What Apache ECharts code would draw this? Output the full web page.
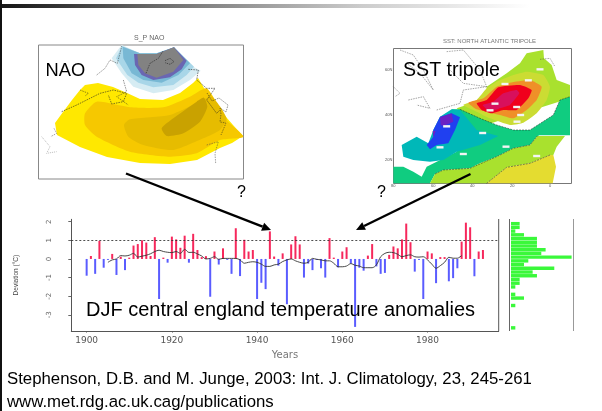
<!DOCTYPE html>
<html><head><meta charset="utf-8">
<style>html,body{margin:0;padding:0;background:#fff}#c{width:602px;height:411px;filter:blur(0.5px)}</style>
<script src="https://cdn.jsdelivr.net/npm/echarts@6/dist/echarts.min.js"></script>
</head><body><div id="c"></div>
<script>
const firstYear = 1900;
const anomalies = [-0.9,0.16,-0.8,0.97,-0.47,-0.05,0.27,-0.86,0.12,-0.6,0.07,0.72,0.8,1.0,0.88,0.16,1.17,-2.15,0.07,-0.2,
1.2,1.05,0.6,1.25,-0.2,1.35,0.48,0.1,0.15,-2.03,0.4,-0.3,0.57,-0.05,-0.8,1.65,-0.92,1.03,0.4,0.48,
-2.15,-1.28,-1.62,1.48,0.13,-0.36,0.3,-2.43,0.78,1.22,0.78,-1.0,-0.25,-0.6,-0.05,-0.5,-1.0,1.12,0.07,-0.45,
0.4,0.63,-0.25,-3.65,-0.47,-0.63,0.18,0.8,-0.4,-0.8,-0.75,0.22,0.67,0.57,1.05,1.9,0.9,-0.68,-0.05,-2.15,
0.4,0.3,-1.3,0.1,0.1,-1.2,-1.03,-0.5,0.93,1.95,1.7,-0.93,0.4,0.48];
const smoothStart = 1905;
const smoothed = [-0.18,-0.05,0,0.18,0.16,0.2,0.3,0.1,0.15,0.2,0.28,0.4,0.47,0.4,0.36,0.34,0.4,0.3,0.52,0.35,0.36,0.27,0.16,0,0.03,0.12,-0.02,0.03,0.03,0.03,0.03,-0.05,-0.23,-0.18,-0.15,-0.18,-0.28,-0.4,-0.4,-0.32,-0.28,-0.14,-0.05,0,-0.1,-0.18,
-0.23,-0.18,0.03,-0.02,-0.05,-0.1,-0.1,-0.23,-0.42,-0.42,-0.38,-0.25,-0.34,-0.38,-0.47,-0.47,-0.47,-0.32,0.12,0.3,0.36,0.34,0.25,0.12,0.18,0.22,0.12,0.1,0.12,-0.05,-0.28,-0.5,-0.36,-0.18,0.09,0.04,0.04,0.18];
const binLabels = ['1.8','1.6','1.4','1.2','1.0','0.8','0.6','0.4','0.2','0.0','-0.2','-0.4','-0.6','-0.8','-1.0','-1.2','-1.4','-1.6','-1.8','-2.0','-2.2','-2.4','-2.6','-2.8','-3.0','-3.2','-3.4','-3.6','-3.8'];
const binCounts = [2,2,1,3,6,6,6,8,7,14,4,3,10,5,6,2,2,1,0,1,3,0,1,0,0,0,0,0,1];
const yearTicks = [1900,1920,1940,1960,1980];
const anomalyTicks = [-3,-2,-1,0,1,2];

const SANS = '"Liberation Sans",Arial,sans-serif';
const z3 = a => a.map(p => [30 + p[0] / 3, 30 + p[1] / 3]);
const z4 = a => a.map(p => [380 + p[0] / 3, 30 + p[1] / 3]);
const poly = (pts, fill, smooth) => ({type:'polygon', silent:true, z:1, shape:{points:pts, smooth:smooth||0}, style:{fill:fill}});
const pline = (pts, color, w, dash) => ({type:'polyline', silent:true, z:2, shape:{points:pts}, style:{stroke:color, lineWidth:w||0.5, fill:null, lineDash:dash||null}});
const line = (x1,y1,x2,y2,color,w) => ({type:'line', silent:true, z:3, shape:{x1,y1,x2,y2}, style:{stroke:color, lineWidth:w}});
const text = (t,x,y,size,fill,extra) => ({type:'text', silent:true, z:6, style:Object.assign({text:t,x,y,font:size+'px '+SANS,fill:fill||'#000',verticalAlign:'middle'},extra||{})});
function arrow(x1,y1,x2,y2){
  const a=Math.atan2(y2-y1,x2-x1),L=9,W=4.2,c=Math.cos(a),s=Math.sin(a);
  const bx=x2-L*c,by=y2-L*s;
  return [
    {type:'line',silent:true,z:5,shape:{x1,y1,x2:bx,y2:by},style:{stroke:'#000',lineWidth:2.4}},
    {type:'polygon',silent:true,z:5,shape:{points:[[x2,y2],[bx-W*s,by+W*c],[bx+W*s,by-W*c]]},style:{fill:'#000'}}
  ];
}

const naoMap = [
  poly([[55,123],[63,112],[72,100],[80,90],[85,85],[98,83],[113,87],[127,93],[140,99],[163,100],[180,93],[193,83],[198,78],[207,93],[220,110],[233,125],[243,136],[232,143],[220,148],[197,160],[170,164],[140,163],[107,157],[80,147],[57,135]],'#ffe800'),
  poly(z3([[165,250],[200,215],[300,232],[400,232],[480,200],[530,175],[590,270],[640,320],[570,330],[500,370],[420,380],[300,365],[200,320],[165,285]]),'#f6c800',0.2),
  poly(z3([[282,285],[300,268],[420,255],[500,220],[545,200],[590,265],[570,300],[520,325],[430,360],[340,345],[295,320]]),'#e6bc00',0.2),
  poly(z3([[395,295],[430,265],[500,215],[522,203],[532,230],[510,275],[460,310],[410,318]]),'#c9a200',0.2),
  poly(z3([[275,45],[245,85],[275,130],[310,170],[370,190],[430,180],[480,150],[512,122],[480,105],[432,52],[380,70],[330,70]]),'#d6ecf3'),
  poly(z3([[276,48],[258,85],[292,135],[325,158],[370,172],[430,165],[470,135],[492,110],[432,52],[380,70],[330,70]]),'#a8d6e8'),
  poly(z3([[278,50],[280,85],[305,130],[340,150],[395,158],[445,135],[480,100],[432,52],[380,70],[330,70]]),'#78b8d4'),
  poly(z3([[312,72],[315,105],[335,135],[370,150],[420,142],[455,118],[470,92],[432,52],[380,72]]),'#6a66b2'),
  poly(z3([[322,72],[325,105],[345,130],[380,143],[430,125],[460,90],[432,52],[380,72]]),'#828282'),
  pline(z3([[348,130],[360,100],[385,85],[400,62]]),'#222',0.6,[1.5,1]),
  pline(z3([[405,92],[420,85],[432,95],[420,103],[405,98]]),'#222',0.6,[1.5,1]),
  pline(z3([[240,90],[262,100],[270,70],[275,48]]),'#333',0.5,[1.5,1]),
  pline(z3([[200,135],[225,115],[240,90]]),'#333',0.5,[1.5,1]),
  pline(z3([[95,245],[140,225],[210,190],[250,180],[290,190],[280,215],[245,222],[235,195]]),'#222',0.6,[1.5,1]),
  pline(z3([[280,150],[290,185],[260,200],[295,225]]),'#222',0.5,[1.5,1]),
  pline(z3([[150,180],[175,190],[165,198]]),'#222',0.5,[1.5,1]),
  pline(z3([[72,295],[80,310],[62,320]]),'#444',0.5,[1.5,1]),
  pline(z3([[35,320],[60,350],[50,370],[80,365]]),'#777',0.5,[1,1]),
  pline(z3([[475,118],[505,120],[500,150],[530,175],[555,175],[530,210],[560,250],[570,240]]),'#222',0.6,[1.5,1]),
  pline(z3([[530,345],[565,335],[555,370],[557,400]]),'#444',0.5,[1.5,1]),
  pline([[207,93],[212,101],[219,98],[228,105],[226,112],[220,108],[221,114],[220,122],[226,123],[221,135]],'#222',0.5,[1.5,1])
];

const sstMap = [
  poly(z4([[320,170],[350,150],[380,130],[420,100],[440,70],[490,60],[492,85],[515,105],[530,150],[570,165],[570,205],[300,290],[230,235],[320,205]]),'#a9e12e'),
  poly(z4([[215,238],[240,238],[300,265],[350,285],[400,300],[450,300],[520,255],[540,210],[570,200],[570,316],[478,316],[470,320],[450,345],[400,355],[350,380],[300,400],[270,415],[190,420],[165,432],[150,460],[40,460],[40,410],[70,410],[100,425],[125,440],[140,410],[170,395],[230,365]]),'#10cc80'),
  poly(z4([[150,460],[165,432],[190,420],[270,415],[300,400],[350,380],[400,355],[450,345],[472,318],[555,318],[530,350],[520,375],[510,375],[450,400],[380,412],[320,460]]),'#a9e12e'),
  poly(z4([[320,460],[380,412],[450,400],[510,375],[520,375],[528,410],[518,460]]),'#e4dc30'),
  poly(z4([[215,238],[240,240],[290,300],[355,318],[300,345],[230,365],[190,390],[150,395],[100,390],[70,380],[65,345],[110,320],[145,340],[160,300],[180,260]]),'#00b8b8'),
  poly(z4([[180,260],[215,250],[240,262],[225,300],[205,340],[170,345],[150,358],[140,345],[160,320],[160,300]]),'#2040f0'),
  poly(z4([[180,262],[215,250],[220,275],[190,288],[182,285]]),'#6a22c4'),
  poly(z4([[158,303],[167,303],[160,322]]),'#6a22c4'),
  poly(z4([[250,225],[290,210],[320,175],[350,155],[400,135],[440,125],[490,135],[510,170],[500,210],[470,250],[430,278],[390,285],[330,265],[290,245]]),'#cbdc33',0.15),
  poly(z4([[265,218],[310,205],[350,170],[390,158],[450,150],[485,170],[470,210],[440,240],[400,265],[360,255],[320,245],[290,238]]),'#ef9028',0.15),
  poly(z4([[290,220],[320,210],[355,172],[420,165],[455,180],[445,205],[410,240],[370,240],[335,250],[305,240]]),'#f0001c',0.15),
  poly(z4([[308,225],[340,215],[370,190],[410,180],[418,190],[390,225],[360,235],[330,245]]),'#d8105c',0.15),
  pline(z4([[240,238],[300,265],[350,285],[400,300],[450,300],[520,255],[540,210],[570,200]]),'#222',0.5,[2,1]),
  pline(z4([[165,432],[190,420],[270,415],[350,380],[400,355],[450,345],[472,318]]),'#222',0.5,[2,1]),
  pline(z4([[320,460],[380,412],[450,400],[510,375]]),'#222',0.5,[2,1]),
  pline(z4([[60,60],[100,75],[130,120],[160,180],[120,130],[80,100]]),'#555',0.5,[1.5,1]),
  pline(z4([[200,65],[250,60],[300,120],[320,170],[250,160],[210,120]]),'#555',0.5,[1.5,1]),
  pline(z4([[85,210],[130,200],[150,235],[110,225]]),'#444',0.5,[1.5,1]),
  pline(z4([[170,240],[240,220],[250,180],[320,170]]),'#444',0.5,[1.5,1]),
  pline(z4([[40,170],[60,190],[45,200]]),'#555',0.5,[1.5,1]),
  pline(z4([[480,88],[510,85],[525,110]]),'#555',0.5,[1.5,1])
].concat([[200,289],[180,352],[250,372],[308,309],[378,350],[470,378],[375,162],[445,151],[345,221],[410,231],[330,241],[422,255],[411,275],[480,118]].map(p => {
  const q = z4([p])[0];
  return {type:'rect',silent:true,z:3,shape:{x:q[0]-3.5,y:q[1]-1.2,width:7,height:2.4},style:{fill:'#f4f4f4'}};
}));

const frames = [
  {type:'rect',silent:true,z:0,shape:{x:38.5,y:45,width:205,height:134},style:{fill:'#fff',stroke:'#888',lineWidth:1}},
  {type:'rect',silent:true,z:0,shape:{x:393.5,y:48.5,width:178,height:135},style:{fill:'#fff',stroke:'#777',lineWidth:1}}
];

const decorations = [
  {type:'rect',silent:true,z:4,shape:{x:0,y:4,width:602,height:4},style:{fill:{type:'linear',x:0,y:0,x2:1,y2:0,colorStops:[{offset:0,color:'#151515'},{offset:0.3,color:'#777'},{offset:0.6,color:'#ccc'},{offset:0.88,color:'#fff'},{offset:1,color:'#fff'}]}}},
  {type:'rect',silent:true,z:4,shape:{x:0,y:0,width:2,height:411},style:{fill:'#111'}},
  line(498.7,219,498.7,331,'#555',1),
  line(509.5,219,509.5,331,'#666',1),
  line(573.5,219,573.5,331,'#999',1),
  text('S_P NAO',134,38,7,'#666'),
  text('SST: NORTH ATLANTIC TRIPOLE',443,41,6,'#777'),
  text('60N',385,70,4,'#555'),text('40N',385,115,4,'#555'),text('20N',385,160,4,'#555'),
  text('80',391,186,4,'#555'),text('60',431,186,4,'#555'),text('40',470,186,4,'#555'),text('20',510,186,4,'#555'),text('0',549,186,4,'#555'),
  text('NAO',45.5,71,18.3),
  text('SST tripole',403,71,19.6),
  text('?',237,193,16),
  text('?',377,193,16),
  text('DJF central england temperature anomalies',86,310,20),
  text('Stephenson, D.B. and M. Junge, 2003: Int. J. Climatology, 23, 245-261',7,379,16.8),
  text('www.met.rdg.ac.uk.cag/publications',7,402,16.8)
].concat(arrow(126,173.5,271,230), arrow(470.5,174,356,230));

const chart = echarts.init(document.getElementById('c'), null, {renderer:'canvas'});
chart.setOption({
  animation:false,
  backgroundColor:'#fff',
  grid:[
    {left:71.3, top:219.3, width:427.4, height:111.7},
    {left:511, top:221.8, width:60.6, height:107.9}
  ],
  xAxis:[
    {gridIndex:0, type:'value', min:1896.4, max:1996.7, splitLine:{show:false},
     name:'Years', nameLocation:'middle', nameGap:19, nameTextStyle:{fontFamily:'DejaVu Sans',fontSize:10,color:'#777'},
     axisLine:{onZero:false,lineStyle:{color:'#555',width:1}},
     axisTick:{customValues:yearTicks,length:1.5,lineStyle:{color:'#555'}},
     axisLabel:{customValues:yearTicks,formatter:v=>String(v),fontFamily:'DejaVu Sans',fontSize:9,color:'#555',margin:5}},
    {gridIndex:1, type:'value', min:0, max:14, show:false}
  ],
  yAxis:[
    {gridIndex:0, type:'value', min:-3.87, max:2.13, splitLine:{show:false},
     name:'Deviation (°C)', nameLocation:'middle', nameGap:52, nameTextStyle:{fontFamily:SANS,fontSize:6.5,color:'#444'},
     axisLine:{onZero:false,show:true,lineStyle:{color:'#555',width:1}},
     axisTick:{show:true,customValues:anomalyTicks,length:3,lineStyle:{color:'#666'}},
     axisLabel:{customValues:anomalyTicks,rotate:90,fontFamily:'DejaVu Sans',fontSize:7,color:'#666',margin:19}},
    {gridIndex:1, type:'category', data:binLabels, inverse:true, show:false}
  ],
  series:[
    {type:'bar', xAxisIndex:0, yAxisIndex:0, barWidth:2,
     data:anomalies.map((v,i)=>({value:[firstYear+i,v], itemStyle:{color:v>=0?'#f6285c':'#5a5cff'}})),
     markLine:{silent:true,symbol:'none',label:{show:false},lineStyle:{color:'#222',type:[2,2],width:0.8},data:[{yAxis:1}]}},
    {type:'line', xAxisIndex:0, yAxisIndex:0, smooth:0.3, showSymbol:false, z:3,
     lineStyle:{color:'#333',width:0.9},
     data:smoothed.map((v,i)=>[smoothStart+i,v])},
    {type:'bar', xAxisIndex:1, yAxisIndex:1, barCategoryGap:'8%',
     itemStyle:{color:'#3af83a'}, data:binCounts}
  ],
  graphic:{elements:[...frames,...naoMap,...sstMap,...decorations]}
});
</script></body></html>
